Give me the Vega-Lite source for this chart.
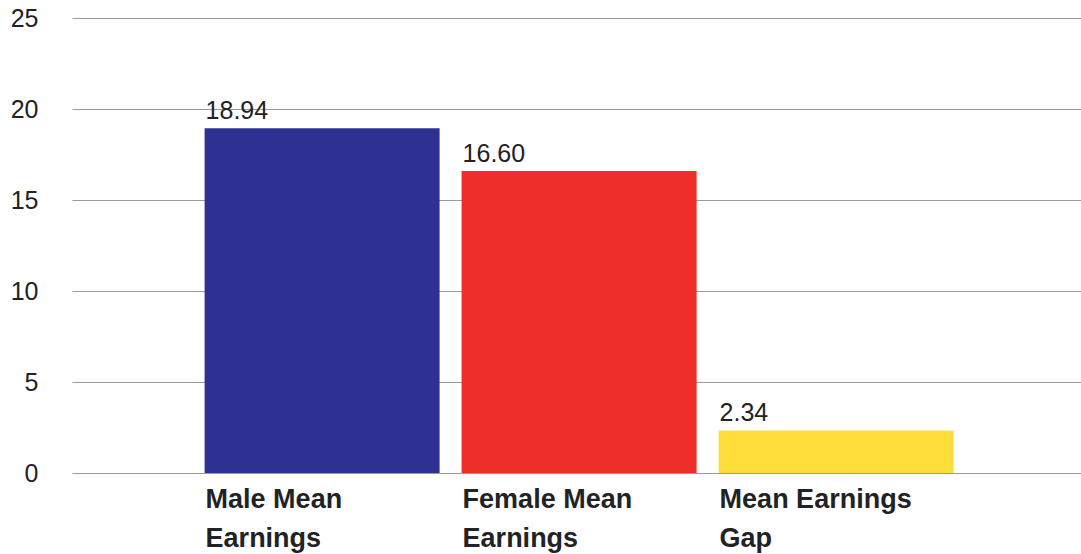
{
  "$schema": "https://vega.github.io/schema/vega-lite/v6.json",
  "width": 1009,
  "height": 455,
  "autosize": {"type": "none"},
  "padding": {"left": 72, "top": 18, "right": 0, "bottom": 81},
  "background": "white",
  "config": {
    "view": {"stroke": null},
    "font": "Liberation Sans"
  },
  "data": {
    "values": [
      {"category": "Male Mean Earnings", "value": 18.94, "label": "18.94"},
      {"category": "Female Mean Earnings", "value": 16.60, "label": "16.60"},
      {"category": "Mean Earnings Gap", "value": 2.34, "label": "2.34"}
    ]
  },
  "encoding": {
    "x": {
      "field": "category",
      "type": "nominal",
      "sort": null,
      "title": null,
      "scale": {"paddingInner": 0.0856, "paddingOuter": 0.5058, "align": 0.51},
      "axis": {
        "domain": false,
        "ticks": false,
        "grid": false,
        "labelAngle": 0,
        "labelAlign": "left",
        "labelBaseline": "top",
        "labelOffset": -116.5,
        "labelPadding": 13,
        "labelFontSize": 27,
        "labelFontWeight": "bold",
        "labelColor": "#1f2326",
        "labelLineHeight": 39,
        "labelLimit": 400,
        "labelExpr": "datum.value == 'Male Mean Earnings' ? ['Male Mean', 'Earnings'] : datum.value == 'Female Mean Earnings' ? ['Female Mean', 'Earnings'] : ['Mean Earnings', 'Gap']"
      }
    },
    "y": {
      "field": "value",
      "type": "quantitative",
      "title": null,
      "scale": {"domain": [0, 25], "nice": false},
      "axis": {
        "values": [0, 5, 10, 15, 20, 25],
        "domain": false,
        "ticks": false,
        "grid": true,
        "gridColor": "#9a9a9a",
        "gridWidth": 1,
        "labelFontSize": 25,
        "labelColor": "#222222",
        "labelPadding": 34,
        "labelAlign": "right"
      }
    }
  },
  "layer": [
    {
      "mark": {"type": "bar"},
      "encoding": {
        "color": {
          "field": "category",
          "type": "nominal",
          "legend": null,
          "scale": {
            "domain": ["Male Mean Earnings", "Female Mean Earnings", "Mean Earnings Gap"],
            "range": ["#2e3192", "#ee2e29", "#ffde3b"]
          }
        }
      }
    },
    {
      "mark": {"type": "text", "align": "left", "baseline": "alphabetic", "dy": -9, "dx": 1, "fontSize": 25, "color": "#222222"},
      "encoding": {
        "x": {"field": "category", "type": "nominal", "sort": null, "bandPosition": 0},
        "text": {"field": "label"}
      }
    }
  ]
}
